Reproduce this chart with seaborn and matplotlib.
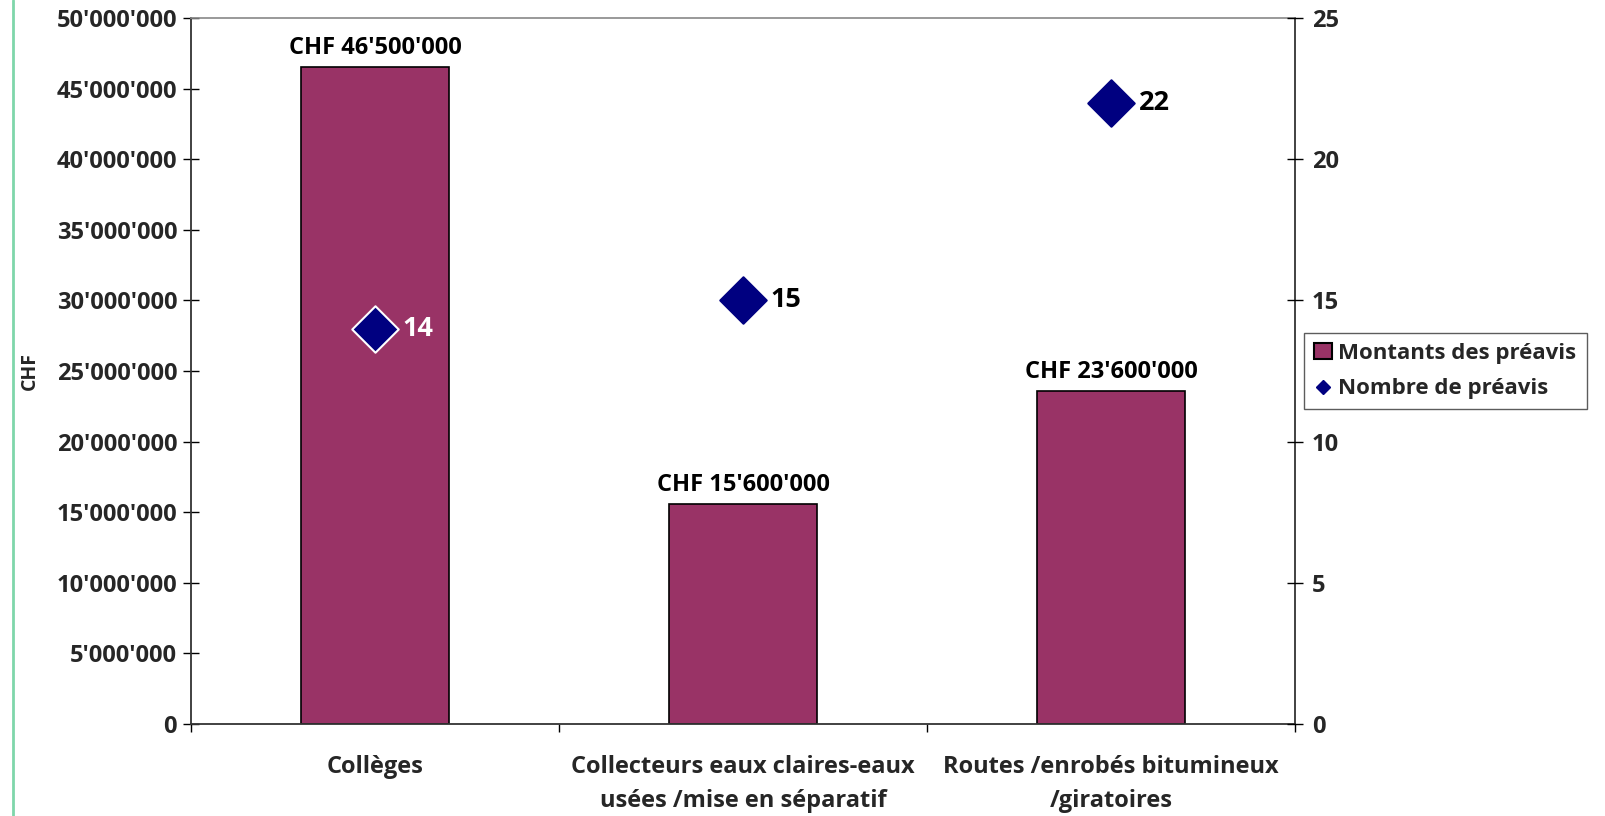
import matplotlib
matplotlib.use("Agg")
import matplotlib.pyplot as plt
from matplotlib.lines import Line2D
from matplotlib.patches import Patch
import seaborn as sns
import pandas as pd

categories = ["Collèges", "Collecteurs eaux claires-eaux\nusées /mise en séparatif", "Routes /enrobés bitumineux\n/giratoires"]
montants = [46500000, 15600000, 23600000]
nombre = [14, 15, 22]
montant_labels = ["CHF 46'500'000", "CHF 15'600'000", "CHF 23'600'000"]
left_ticks = list(range(0, 50000001, 5000000))
right_ticks = [0, 5, 10, 15, 20, 25]

sns.set_theme(style="white")
FAM = ['Open Sans', 'DejaVu Sans']
plt.rcParams['font.family'] = FAM
plt.rcParams['font.weight'] = 'bold'
FS = 17

df = pd.DataFrame({"cat": categories, "montant": montants, "nombre": nombre})

fig = plt.figure(figsize=(16.05, 8.16), dpi=100)
ax = fig.add_axes([191/1605, 1-724/816, (1295-191)/1605, (724-18)/816])

bar_color = "#993366"
sns.barplot(data=df, x="cat", y="montant", color=bar_color, width=0.4, ax=ax,
            edgecolor="black", linewidth=1.2, saturation=1)
ax.set_ylim(0, 50000000)
ax.set_xlim(-0.5, 2.5)
ax.set_yticks(left_ticks)
ax.set_yticklabels([f"{v:,.0f}".replace(",", "'") for v in left_ticks], fontsize=FS, fontweight='bold')
ax.set_xticks([-0.5, 0.5, 1.5, 2.5])
ax.set_xticklabels([])
ax.set_xticks([0, 1, 2], minor=True)
ax.set_xticklabels(categories, minor=True, fontsize=FS, fontweight='bold', linespacing=1.6)
ax.tick_params(axis='x', which='major', direction='out', length=6, width=1, color='black', bottom=True)
ax.tick_params(axis='x', which='minor', length=0, pad=22, bottom=True)
ax.tick_params(axis='y', direction='inout', length=12, width=1, color='black', left=True, pad=4)
ax.set_xlabel("")
ax.set_ylabel("CHF", fontsize=14, fontweight='bold', labelpad=12)
for s in ['left', 'bottom', 'right']:
    ax.spines[s].set_color('#333333')
    ax.spines[s].set_linewidth(1.3)
ax.spines['top'].set_color('#888888')
ax.spines['top'].set_linewidth(1.2)

for i, (v, lab) in enumerate(zip(montants, montant_labels)):
    ax.annotate(lab, (i, v), xytext=(0, 5), textcoords='offset points', ha='center', va='bottom',
                fontsize=FS, fontweight='bold', color='black')

ax2 = ax.twinx()
edgecols = ['white', '#000080', '#000080']
for i, (n, ec) in enumerate(zip(nombre, edgecols)):
    sub = df.iloc[[i]]
    sns.scatterplot(data=sub, x="cat", y="nombre", ax=ax2, marker='D', s=560, color='#000080',
                    edgecolor=ec, linewidth=1.5, legend=False, zorder=5)
ax2.set_ylim(0, 25)
ax2.set_xlim(-0.5, 2.5)
ax2.set_yticks(right_ticks)
ax2.set_yticklabels([str(t) for t in right_ticks], fontsize=FS, fontweight='bold')
ax2.tick_params(axis='y', direction='inout', length=12, width=1, color='black', right=True, pad=6)
ax2.set_ylabel("")
ax2.set_xlabel("")
for s in ax2.spines.values():
    s.set_visible(False)

label_cols = ['white', 'black', 'black']
for i, (n, c) in enumerate(zip(nombre, label_cols)):
    ax2.annotate(str(n), (i, n), xytext=(20, 0), textcoords='offset points', ha='left', va='center',
                 fontsize=19.5, fontweight='bold', color=c)

handles = [Patch(facecolor=bar_color, edgecolor='black', linewidth=1.5, label="Montants des préavis"),
           Line2D([], [], marker='D', color='#000080', linestyle='none', markersize=7, label="Nombre de préavis")]
leg = fig.legend(handles=handles, loc='upper left', bbox_to_anchor=(1304/1605, 1-333/816),
                 frameon=True, fancybox=False, edgecolor='#333333',
                 prop={'family': FAM, 'weight': 'bold', 'size': 16}, handlelength=0.8, handletextpad=0.3,
                 borderpad=0.45, labelspacing=0.65, borderaxespad=0)
leg.get_frame().set_linewidth(1.0)

fig.add_artist(Line2D([13/1605, 13/1605], [0, 1], transform=fig.transFigure, color='#7fd6aa', linewidth=2))

fig.savefig("out.png", dpi=100)
